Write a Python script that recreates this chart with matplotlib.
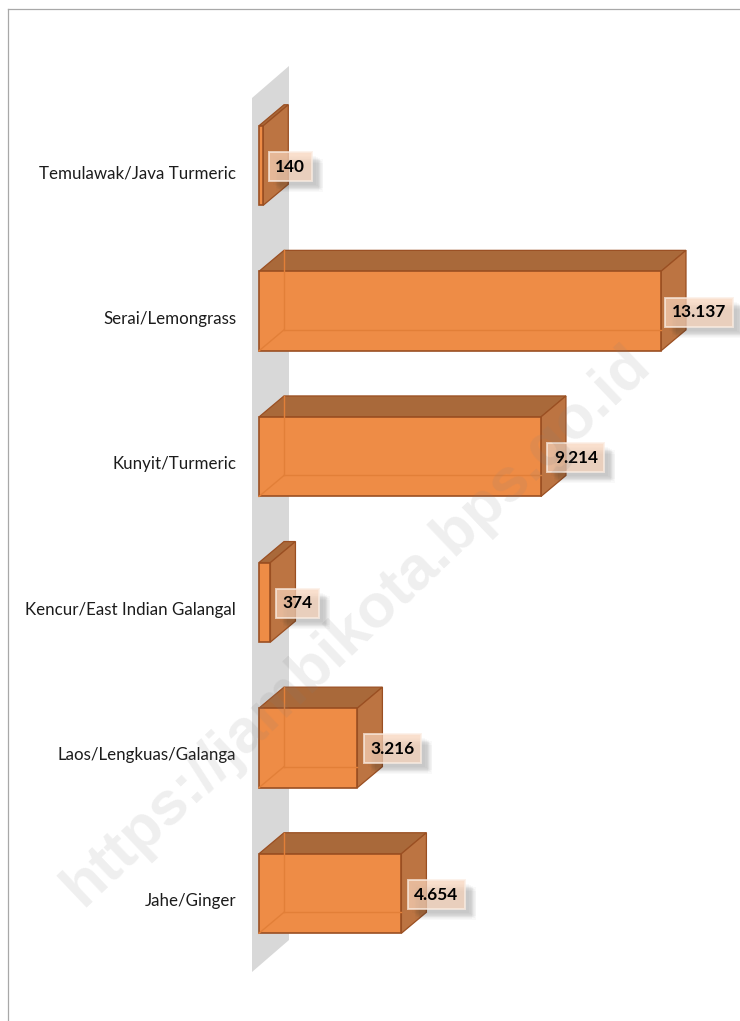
import matplotlib
matplotlib.use("Agg")
import matplotlib.pyplot as plt
import matplotlib.patheffects as pe
from matplotlib.lines import Line2D
from matplotlib.patches import Polygon, Rectangle

categories = ["Temulawak/Java Turmeric", "Serai/Lemongrass", "Kunyit/Turmeric",
              "Kencur/East Indian Galangal", "Laos/Lengkuas/Galanga", "Jahe/Ginger"]
values = [140, 13137, 9214, 374, 3216, 4654]
value_labels = ["140", "13.137", "9.214", "374", "3.216", "4.654"]

W, H = 740, 1021
units_per_px_x = 13137 / 402
units_per_px_y = 1 / 145.6
BAR_H = 79.5 * units_per_px_y
DX = 25 * units_per_px_x
DY = -21 * units_per_px_y

fig = plt.figure(figsize=(W / 100, H / 100), dpi=100, facecolor="white")
ax = fig.add_axes([0, 0, 1, 1])
ax.set_xlim(-259 * units_per_px_x, 481 * units_per_px_x)
ax.set_ylim((1021 - 165.5) * units_per_px_y, -165.5 * units_per_px_y)
ax.patch.set_alpha(0)
for s in ax.spines.values():
    s.set_visible(False)
ax.spines["left"].set_position(("data", 0))
ax.xaxis.set_visible(False)

ax.set_yticks([i + 6 * units_per_px_y for i in range(len(categories))])
ax.set_yticklabels(categories, family="Lato", fontsize=12.2, color="#1c1c1c")
ax.tick_params(axis="y", length=0, pad=16.5)

# wall
wx0, wx1 = -7 * units_per_px_x, 30 * units_per_px_x
ty = (98 - 165.5) * units_per_px_y
by = (972 - 165.5) * units_per_px_y
wall_dy = -32 * units_per_px_y
ax.add_patch(Polygon([(wx0, ty), (wx1, ty + wall_dy), (wx1, by + wall_dy), (wx0, by)],
                     closed=True, fc="#D8D8D8", ec="none", zorder=1))

EDGE = "#9A4F22"
LABEL_OFFSET = {3: 26, 5: 34, 6: 37}
for i, v in enumerate(values):
    y0, y1 = i - BAR_H / 2, i + BAR_H / 2
    # back panels
    ax.add_patch(Polygon([(0, y0), (DX, y0 + DY), (v + DX, y0 + DY), (v, y0)],
                         fc="#A9693A", ec=EDGE, lw=0.9, zorder=3))
    ax.add_patch(Polygon([(v, y0), (v + DX, y0 + DY), (v + DX, y1 + DY), (v, y1)],
                         fc="#BC7442", ec=EDGE, lw=0.9, zorder=3))
    # front
    ax.add_patch(Rectangle((0, y0), v, BAR_H, fc="#EE8C46", ec=EDGE, lw=1.2, zorder=4))
    # hidden edges seen through the front
    if v > 1000:
        inner = "#E27F38"
        ax.plot([DX, DX], [y0 + DY, y1 + DY], color=inner, lw=1.0, zorder=5)
        ax.plot([DX, v], [y1 + DY, y1 + DY], color=inner, lw=1.0, zorder=5)
        ax.plot([0, DX], [y1, y1 + DY], color=inner, lw=1.0, zorder=5)
    # value label
    t = ax.annotate(value_labels[i], xy=(v, i),
                    xytext=(LABEL_OFFSET[len(value_labels[i])] + 1, -1),
                    textcoords="offset pixels", ha="center", va="center", family="Lato",
                    fontweight="bold", fontsize=12.4, color="black", zorder=8,
                    bbox=dict(boxstyle="square,pad=0.38", fc="#F7D3BA", ec="#FBEDE3",
                              lw=1.4, alpha=0.72))
    shadows = []
    for ox, oy in [(4, -4), (6, -5), (7, -7), (8, -6), (8, -8), (9, -8), (10, -9), (7, -10), (11, -7), (11, -11)]:
        shadows.append(pe.SimplePatchShadow(offset=(ox * 0.72, oy * 0.72), alpha=0.028, shadow_rgbFace="#303030"))
    t.get_bbox_patch().set_path_effects(shadows + [pe.Normal()])

# watermark
ax.text(0.483, 0.387, "https://jambikota.bps.go.id", transform=ax.transAxes, rotation=43.5,
        rotation_mode="anchor", ha="center", va="center", family="Liberation Sans",
        fontweight="bold", fontsize=44.5, color="#808080", alpha=0.13, zorder=10)

# frame
frame = "#A8A8A8"
fig.add_artist(Line2D([7.5 / W, 7.5 / W], [0, 1 - 9 / H], color=frame, lw=0.9))
fig.add_artist(Line2D([7.5 / W, 1], [1 - 9 / H, 1 - 9 / H], color=frame, lw=0.9))

fig.savefig("out.png", dpi=100)
